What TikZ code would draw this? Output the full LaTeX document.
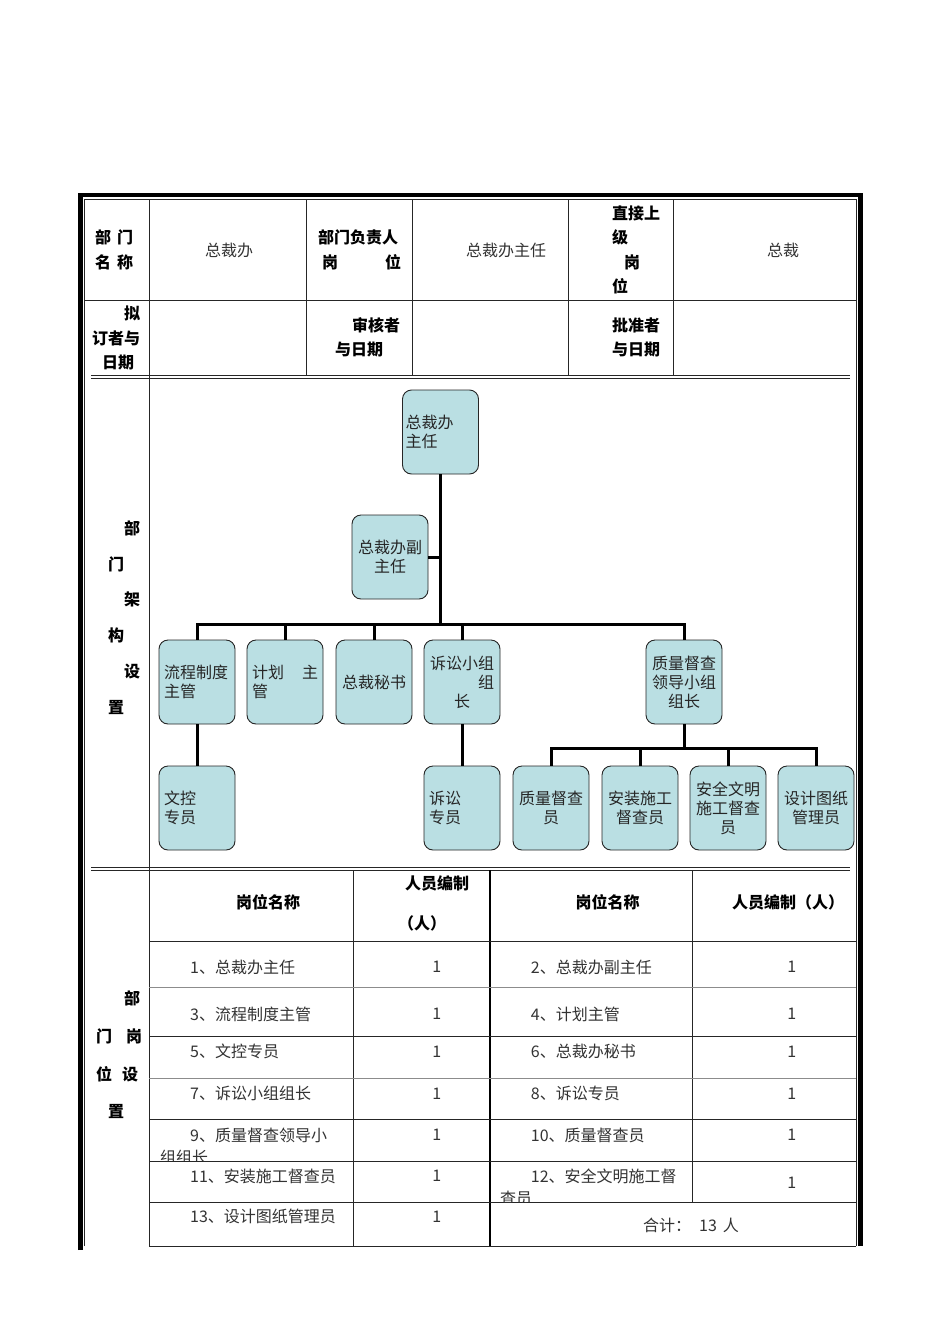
\documentclass[tikz,border=0pt]{standalone}
\usepackage{fontspec}
\setmainfont{Noto Sans CJK SC}
\definecolor{boxfill}{RGB}{186,223,227}
\tikzset{
  orgbox/.style={draw=black!85, line width=0.9pt, fill=boxfill, rounded corners=9pt,
    minimum width=76pt, minimum height=84pt, inner sep=0pt, text width=66pt,
    font=\fontsize{16}{19}\selectfont, text=black!85},
  conn/.style={line width=3pt, black, line join=miter},
  lbl/.style={inner sep=0pt, font=\bfseries\fontsize{16}{24.5}\selectfont, align=left, anchor=west},
  val/.style={inner sep=0pt, font=\fontsize{16}{19}\selectfont, text=black!80},
  hdr/.style={inner sep=0pt, font=\bfseries\fontsize{16}{40}\selectfont, align=center},
  grid/.style={line width=0.8pt, black!85},
  lgrid/.style={line width=0.8pt, black!45},
}
\begin{document}
\begin{tikzpicture}[x=1pt,y=-1pt]
\useasboundingbox[fill=white] (0,0) rectangle (950,1344);

% ---------- outer frame ----------
\draw[line width=4.5pt, line join=miter] (80.5,1250) -- (80.5,195) -- (860.5,195) -- (860.5,1246);
\draw[grid] (84.5,1246) -- (84.5,199.5) -- (856,199.5) -- (856,1246);

% ---------- header grid ----------
\draw[grid] (84.5,300) -- (856,300);
\draw[grid] (149.3,199.5) -- (149.3,1246);
\foreach \x in {306.7,412.3,568.3,673.3} \draw[grid] (\x,199.5) -- (\x,375.7);
\draw[grid] (91,375.7) -- (850,375.7);
\draw[grid] (91,378.3) -- (850,378.3);
\draw[grid] (91,867.3) -- (850,867.3);
\draw[grid] (91,870) -- (850,870);

% ---------- header texts ----------
\node[lbl] (h11) at (95,250) {部\hspace*{6pt}门\\名\hspace*{6pt}称};
\node[val] (h12) at (229,250) {总裁办};
\node[lbl] (h13) at (318,250) {部门负责人\\\hspace*{4pt}岗\hspace*{47pt}位};
\node[val] (h14) at (506,250) {总裁办主任};
\node[lbl] (h15) at (612,250) {直接上\\级\\\hspace*{12pt}岗\\位};
\node[val] (h16) at (783,250) {总裁};
\node[lbl] (h21) at (92,338) {\hspace*{32pt}拟\\订者与\\\hspace*{10pt}日期};
\node[lbl] (h23) at (335,337.5) {\hspace*{17pt}审核者\\与日期};
\node[lbl] (h25) at (612,337.5) {批准者\\与日期};

% ---------- org section label ----------
\node[lbl, font=\bfseries\fontsize{16}{35.8}\selectfont] (orglbl) at (108,617.5)
  {\hspace*{16pt}部\\门\\\hspace*{16pt}架\\构\\\hspace*{16pt}设\\置};

% ---------- org chart ----------
\node[orgbox, text width=70pt, align=left] (zr) at (440.5,432) {总裁办\\主任};
\node[orgbox, align=center] (fzr) at (390,557) {总裁办副\\主任};
\node[orgbox, align=left] (lc) at (197,682) {流程制度\\主管};
\node[orgbox, align=left] (jh) at (285,682) {计划\hfill 主\\管};
\node[orgbox, align=center] (ms) at (374,682) {总裁秘书};
\node[orgbox, align=center, text width=64pt] (ss) at (462,682) {诉讼小组\\\hfill 组\\长};
\node[orgbox, align=center] (zl) at (684,682) {质量督查\\领导小组\\组长};
\node[orgbox, align=left] (wk) at (197,808) {文控\\专员};
\node[orgbox, align=left] (sz) at (462,808) {诉讼\\专员};
\node[orgbox, align=center] (zc) at (551,808) {质量督查\\员};
\node[orgbox, align=center] (az) at (640,808) {安装施工\\督查员};
\node[orgbox, align=center] (aq) at (728,808) {安全文明\\施工督查\\员};
\node[orgbox, align=center] (sj) at (816,808) {设计图纸\\管理员};

\coordinate (b1) at (440.5,624);
\coordinate (b2) at (684,748);
\draw[conn] (zr.south) -- (b1);
\draw[conn] (fzr.east) -- (fzr.east -| zr.south);
\draw[conn] (lc.north) -- (lc.north |- b1) -- (zl.north |- b1) -- (zl.north);
\draw[conn] (jh.north) -- (jh.north |- b1);
\draw[conn] (ms.north) -- (ms.north |- b1);
\draw[conn] (ss.north) -- (ss.north |- b1);
\draw[conn] (lc.south) -- (wk.north);
\draw[conn] (ss.south) -- (sz.north);
\draw[conn] (zl.south) -- (b2);
\draw[conn] (zc.north) -- (zc.north |- b2) -- (sj.north |- b2) -- (sj.north);
\draw[conn] (az.north) -- (az.north |- b2);
\draw[conn] (aq.north) -- (aq.north |- b2);

% ---------- staffing section ----------
\node[lbl, font=\bfseries\fontsize{16}{37.8}\selectfont] (stlbl) at (96,1054.8)
  {\hspace*{28pt}部\\门\hspace*{14pt}岗\\位\hspace*{10pt}设\\\hspace*{12pt}置};

\draw[grid] (353.3,870) -- (353.3,1246);
\draw[grid] (692.3,870) -- (692.3,1202.7);
\draw[line width=2pt] (489.5,870) -- (489.5,1246);
\foreach \y in {941,1036.7,1119.3,1161,1202.7,1246} \draw[grid] (149.3,\y) -- (856,\y);
\foreach \y in {987,1078.3} \draw[lgrid] (149.3,\y) -- (856,\y);

\node[hdr] (t1) at (268,902) {岗位名称};
\node[hdr, align=left, anchor=west] (t2) at (398,903) {\hspace*{7pt}人员编制\\（人）};
\node[hdr] (t3) at (607.5,902) {岗位名称};
\node[hdr] (t4) at (788,902) {人员编制（人）};

\node[val, anchor=west] (r1) at (190,967) {1、总裁办主任};
\node[val, anchor=west] (r3) at (190,1014) {3、流程制度主管};
\node[val, anchor=west] (r5) at (190,1051.7) {5、文控专员};
\node[val, anchor=west] (r7) at (190,1093.3) {7、诉讼小组组长};
\begin{scope}
\clip (150,1119.8) rectangle (353,1160.6);
\node[val, anchor=west, align=left, font=\fontsize{16}{22}\selectfont] (r9) at (160,1146)
  {\hspace*{30pt}9、质量督查领导小\\组组长};
\end{scope}
\node[val, anchor=west] (r11) at (190,1176) {11、安装施工督查员};
\node[val, anchor=west] (r13) at (190,1216.7) {13、设计图纸管理员};

\foreach \y/\n in {967/a,1014/b,1051.7/c,1093.3/d,1135/e,1176/f,1216.7/g}
  \node[val] (nl\n) at (436.7,\y) {1};

\node[val, anchor=west] (r2) at (530.7,967) {2、总裁办副主任};
\node[val, anchor=west] (r4) at (530.7,1014) {4、计划主管};
\node[val, anchor=west] (r6) at (530.7,1051.7) {6、总裁办秘书};
\node[val, anchor=west] (r8) at (530.7,1093.3) {8、诉讼专员};
\node[val, anchor=west] (r10) at (530.7,1135) {10、质量督查员};
\begin{scope}
\clip (491,1161.5) rectangle (692,1202.2);
\node[val, anchor=west, align=left, font=\fontsize{16}{22}\selectfont] (r12) at (500,1187)
  {\hspace*{30.7pt}12、安全文明施工督\\查员};
\end{scope}

\foreach \y/\n in {967/a,1014/b,1051.7/c,1093.3/d,1135/e,1182.7/f}
  \node[val] (nr\n) at (791.7,\y) {1};

\node[val] (total) at (691,1225) {合计：\hspace*{8pt}13\hspace*{6pt}人};
\end{tikzpicture}
\end{document}
